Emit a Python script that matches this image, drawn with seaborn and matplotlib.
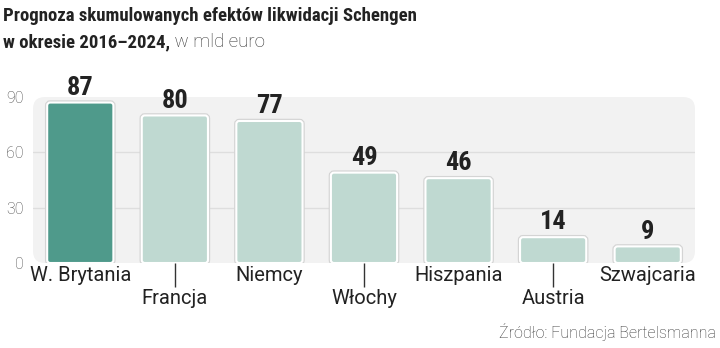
import matplotlib
matplotlib.use("Agg")
import matplotlib.pyplot as plt
import matplotlib.patheffects as pe
from matplotlib.patches import FancyBboxPatch
from matplotlib import font_manager as fm
import seaborn as sns
import pandas as pd

# Data
countries = ["W. Brytania", "Francja", "Niemcy", "Włochy", "Hiszpania", "Austria", "Szwajcaria"]
values = [87, 80, 77, 49, 46, 14, 9]
y_ticks = [0, 30, 60, 90]
highlight = "W. Brytania"

title_line1 = "Prognoza skumulowanych efektów likwidacji Schengen"
title_line2 = "w okresie 2016–2024,"
title_unit = " w mld euro"
source = "Źródło: Fundacja Bertelsmanna"

DARK = "#4f9a8b"
LIGHT = "#bfd9d1"
TEXT = "#222222"

df = pd.DataFrame({"kraj": countries, "wartosc": values})
palette = {c: (DARK if c == highlight else LIGHT) for c in countries}

sns.set_theme(style="white")
plt.rcParams["font.family"] = ["Roboto", "DejaVu Sans"]

installed = {f.name for f in fm.fontManager.ttflist}
cond = [n for n in ["Roboto Condensed", "DejaVu Sans Condensed", "Liberation Sans Narrow"] if n in installed]
COND_FAMILY = cond + ["DejaVu Sans"]

W, H = 720, 348
fig = plt.figure(figsize=(W / 100, H / 100), dpi=100)
ax_left, ax_right, ax_top, ax_bottom = 33, 695, 97, 263
ax = fig.add_axes([ax_left / W, 1 - ax_bottom / H, (ax_right - ax_left) / W, (ax_bottom - ax_top) / H])

sns.barplot(data=df, x="kraj", y="wartosc", hue="kraj", palette=palette,
            legend=False, width=0.7, ax=ax, zorder=3, saturation=1)
bars = list(ax.patches)

ax.set_xlim(-0.5, len(countries) - 0.5)
ax.set_ylim(0, 90)
ax.patch.set_visible(False)
for s in ax.spines.values():
    s.set_visible(False)
ax.set_xlabel("")
ax.set_ylabel("")

# rounded light-grey panel behind the plot
ax_w_px = ax_right - ax_left
ax_h_px = ax_bottom - ax_top
r = 12 / ax_w_px
panel = FancyBboxPatch((0, 0), 1, 1, boxstyle=f"round,pad=0,rounding_size={r}",
                       mutation_aspect=ax_w_px / ax_h_px, transform=ax.transAxes,
                       facecolor="#f2f2f2", edgecolor="none", zorder=0, clip_on=False)
ax.add_patch(panel)
for yv in (30, 60):
    ax.axhline(yv, color="#dedede", lw=1, zorder=1)

# replace plain rectangles with rounded bars
px_x = ax_w_px / len(countries)
px_y = ax_h_px / 90
rx = 3 / px_x
for b in bars:
    x, y, w, h = b.get_x(), b.get_y(), b.get_width(), b.get_height()
    rb = FancyBboxPatch((x, y), w, h, boxstyle=f"round,pad=0,rounding_size={rx}",
                        mutation_aspect=(3 / px_y) / rx,
                        facecolor=b.get_facecolor(), edgecolor="white", lw=1.5, zorder=3,
                        path_effects=[pe.Stroke(linewidth=3.2, foreground="#d4d4d4"), pe.Normal()])
    b.set_visible(False)
    ax.add_patch(rb)

# value labels
for i, v in enumerate(values):
    ax.annotate(f"{v}", (i, v), xytext=(0, 2), textcoords="offset points",
                ha="center", va="bottom", fontsize=19, fontweight="bold",
                family=COND_FAMILY, fontstretch="condensed", color=TEXT,
                annotation_clip=False)

# y axis
ax.set_yticks(y_ticks)
ax.set_yticklabels([str(t) for t in y_ticks], fontsize=11.5, color="#4a4a4a", fontweight="light")
ax.tick_params(axis="y", length=0, pad=7, left=False)

# x axis: alternating label rows, with connector ticks on the lower row
ax.set_xticks(range(len(countries)))
ax.set_xticklabels(countries, fontsize=14.5, color=TEXT)
ax.tick_params(axis="x", bottom=True, length=0, pad=2, color="#333333", width=1)
for i, tick in enumerate(ax.xaxis.get_major_ticks()):
    if i % 2 == 1:
        tick.set_pad(19)
        tick.tick1line.set_visible(True)
        tick.tick1line.set_markersize(17)
        tick.tick1line.set_markeredgecolor("#333333")
        tick.tick1line.set_markeredgewidth(1)

# title
t1 = fig.text(3 / W, 1 - 21 / H, title_line1, fontsize=13.5, fontweight="bold",
              family=COND_FAMILY, fontstretch="condensed", color=TEXT, va="baseline")
t2 = fig.text(3 / W, 1 - 47 / H, title_line2, fontsize=13.5, fontweight="bold",
              family=COND_FAMILY, fontstretch="condensed", color=TEXT, va="baseline")
fig.canvas.draw()
bb = t2.get_window_extent(fig.canvas.get_renderer())
fig.text(bb.x1 / W, 1 - 47 / H, title_unit, fontsize=13.5, fontweight="light",
         color="#333333", va="baseline")

fig.text(716 / W, 1 - 338 / H, source, fontsize=11.5, fontweight="light",
         color="#333333", ha="right", va="baseline")

fig.savefig("out.png", dpi=100)
